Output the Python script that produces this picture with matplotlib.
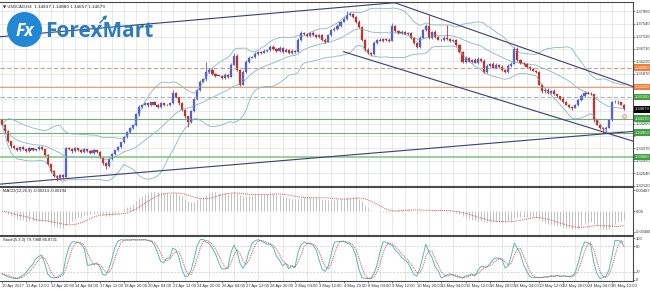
import numpy as np
import pandas as pd
import matplotlib
matplotlib.use('Agg')
import matplotlib.pyplot as plt
from matplotlib.patches import Circle, FancyArrowPatch

# USDCAD H4, 10 Apr - 25 May 2017
symbol_line = '\u25bc USDCAD,H4  1.34837 1.34880 1.34657 1.34679'
macd_line = 'MACD(12,26,9) -0.00214 -0.00194'
stoch_line = 'Stoch(5,3,3) 79.7988 86.8731'

first_open = 1.3431
closes = [
    1.3417, 1.3394, 1.3361, 1.3344, 1.3337, 1.3331, 1.3341, 1.3334, 1.3327, 1.3337,
    1.3331, 1.3334, 1.3341, 1.3334, 1.3314, 1.3284, 1.3261, 1.3244, 1.3237, 1.3247,
    1.3241, 1.3337, 1.3334, 1.3327, 1.3337, 1.3331, 1.3324, 1.3334, 1.3327, 1.3321,
    1.3331, 1.3324, 1.3307, 1.3287, 1.3277, 1.3301, 1.3317, 1.3331, 1.3341, 1.3357,
    1.3374, 1.3391, 1.3404, 1.3414, 1.3451, 1.3477, 1.3484, 1.3488, 1.3481, 1.3491,
    1.3484, 1.3477, 1.3488, 1.3481, 1.3484, 1.3488, 1.3524, 1.3508, 1.3488, 1.3467,
    1.3444, 1.3427, 1.3461, 1.3501, 1.3534, 1.3561, 1.3568, 1.3594, 1.3601, 1.3588,
    1.3581, 1.3581, 1.3574, 1.3584, 1.3578, 1.3618, 1.3648, 1.3601, 1.3551, 1.3594,
    1.3628, 1.3641, 1.3644, 1.3654, 1.3661, 1.3658, 1.3664, 1.3668, 1.3678, 1.3671,
    1.3664, 1.3674, 1.3661, 1.3668, 1.3658, 1.3664, 1.3661, 1.3701, 1.3724, 1.3721,
    1.3714, 1.3724, 1.3718, 1.3711, 1.3718, 1.3701, 1.3694, 1.3718, 1.3734, 1.3738,
    1.3748, 1.3761, 1.3771, 1.3784, 1.3788, 1.3778, 1.3761, 1.3744, 1.3701, 1.3668,
    1.3658, 1.3654, 1.3691, 1.3701, 1.3698, 1.3704, 1.3701, 1.3698, 1.3748, 1.3731,
    1.3724, 1.3728, 1.3721, 1.3724, 1.3708, 1.3691, 1.3678, 1.3708, 1.3734, 1.3748,
    1.3708, 1.3728, 1.3711, 1.3701, 1.3701, 1.3708, 1.3704, 1.3698, 1.3701, 1.3684,
    1.3661, 1.3628, 1.3641, 1.3628, 1.3634, 1.3624, 1.3638, 1.3631, 1.3594, 1.3614,
    1.3621, 1.3608, 1.3618, 1.3611, 1.3601, 1.3594, 1.3614, 1.3621, 1.3671, 1.3634,
    1.3624, 1.3621, 1.3611, 1.3604, 1.3598, 1.3594, 1.3551, 1.3528, 1.3534, 1.3524,
    1.3531, 1.3518, 1.3511, 1.3504, 1.3494, 1.3484, 1.3477, 1.3474, 1.3481, 1.3498,
    1.3514, 1.3524, 1.3521, 1.3518, 1.3431, 1.3417, 1.3407, 1.3401, 1.3407, 1.3431,
    1.3491, 1.3494, 1.3491, 1.3484, 1.3468,
]
upper_wick_pips = [
    3, 2, 4, 2, 3, 4, 2, 3, 2, 4, 3, 2, 4, 3, 2, 3, 2, 4, 3, 5,
    3, 6, 4, 3, 5, 2, 4, 3, 2, 3, 4, 2, 3, 2, 3, 4, 3, 2, 4, 3,
    5, 3, 4, 2, 6, 5, 3, 4, 2, 3, 4, 3, 5, 2, 3, 4, 8, 3, 2, 4,
    3, 2, 4, 5, 3, 6, 4, 33, 5, 4, 3, 4, 2, 5, 3, 6, 8, 4, 3, 5,
    4, 6, 3, 5, 4, 2, 5, 3, 6, 4, 3, 5, 2, 4, 3, 5, 2, 6, 5, 4,
    3, 4, 5, 2, 4, 3, 5, 4, 3, 6, 5, 4, 6, 13, 5, 4, 3, 5, 4, 3,
    4, 3, 6, 4, 5, 3, 4, 5, 8, 4, 3, 5, 4, 3, 4, 2, 3, 5, 4, 6,
    37, 4, 5, 3, 4, 5, 43, 3, 4, 3, 4, 3, 5, 4, 3, 5, 4, 3, 4, 5,
    3, 5, 4, 3, 4, 2, 5, 4, 6, 5, 3, 4, 2, 3, 4, 3, 4, 2, 5, 4,
    3, 4, 2, 3, 4, 3, 2, 3, 4, 5, 4, 5, 6, 4, 3, 4, 3, 2, 4, 5,
    6, 4, 5, 3, 1,
]
lower_wick_pips = [
    3, 4, 3, 5, 2, 3, 4, 2, 3, 3, 2, 4, 3, 2, 4, 3, 5, 4, 10, 4,
    6, 4, 3, 5, 2, 4, 3, 3, 2, 4, 3, 4, 2, 5, 10, 3, 4, 2, 3, 4,
    2, 3, 4, 3, 2, 4, 3, 2, 4, 3, 2, 4, 3, 3, 2, 4, 3, 2, 4, 5,
    4, 17, 4, 3, 2, 4, 3, 4, 3, 5, 3, 2, 4, 3, 5, 2, 3, 4, 6, 3,
    3, 4, 2, 3, 4, 3, 2, 4, 3, 4, 4, 3, 5, 2, 4, 3, 4, 2, 3, 4,
    3, 2, 4, 3, 5, 4, 3, 2, 4, 3, 4, 3, 2, 3, 4, 5, 3, 4, 3, 4,
    5, 6, 3, 4, 2, 3, 4, 3, 2, 4, 3, 4, 2, 5, 3, 4, 5, 3, 2, 4,
    3, 4, 3, 2, 4, 3, 2, 4, 3, 4, 3, 4, 5, 3, 4, 2, 3, 4, 5, 3,
    4, 2, 3, 4, 3, 5, 4, 3, 2, 4, 3, 4, 5, 3, 2, 4, 3, 5, 4, 3,
    4, 3, 2, 4, 5, 3, 4, 7, 3, 2, 3, 4, 2, 3, 4, 3, 5, 13, 4, 3,
    2, 3, 4, 3, 2,
]

time_labels = ['10 Apr 2017', '11 Apr 12:00', '12 Apr 20:00', '14 Apr 04:00', '17 Apr 12:00',
               '18 Apr 20:00', '20 Apr 04:00', '21 Apr 12:00', '24 Apr 20:00', '26 Apr 04:00',
               '27 Apr 12:00', '28 Apr 20:00', '2 May 04:00', '3 May 12:00', '4 May 20:00',
               '8 May 04:00', '9 May 12:00', '10 May 20:00', '12 May 04:00', '15 May 12:00',
               '16 May 20:00', '18 May 04:00', '19 May 12:00', '22 May 20:00', '24 May 04:00',
               '25 May 12:00']
bars_per_label = 8

price_ticks = [1.37960, 1.37540, 1.37120, 1.36710, 1.36290, 1.35870, 1.35460, 1.35040,
               1.34620, 1.34200, 1.33790, 1.33370, 1.32950, 1.32540, 1.32120]
# these sit under the coloured price boxes in the screenshot
hidden_ticks = [1.35460, 1.35040, 1.34620, 1.33790]

# horizontal levels: price, line style, line colour, label colour
level_prices = [1.36080, 1.35420, 1.35100, 1.34370, 1.33900, 1.33080]
level_styles = ['--', '-', '--', '-', '-', '-']
level_colors = ['#c4a488', '#e2a47a', '#a8b8a8', '#72ad72', '#72ad72', '#98cf98']
level_label_colors = ['#ef7f3a', '#ef7f3a', '#3f9f3f', '#3f9f3f', '#3f9f3f', '#3f9f3f']
last_price = 1.34679

# trend lines as (bar, price) pairs
trend_lines = [
    ((-1, 1.3711), (150, 1.3844)),
    ((128, 1.3828), (207, 1.3544)),
    ((112, 1.3661), (207, 1.3361)),
    ((-1, 1.3217), (207, 1.3394)),
]

macd_ticks = [0.00487, 0.0, -0.00480]
macd_tick_labels = ['0.00487', '0.00', '-0.00480']
stoch_ticks = [100, 80, 20, 0]

W, H = 650, 292
BULL = '#5560c8'
BEAR = '#bb3530'
GRID = '#dde0e3'
BAND = '#8bb6c6'
TLINE = '#3a3f74'
SMALL = ['Liberation Sans Narrow', 'Liberation Sans', 'DejaVu Sans']
FS = 3.0

close = pd.Series(closes)
opens = pd.Series([first_open] + closes[:-1])
highs = np.maximum(opens, close) + np.array(upper_wick_pips) * 1e-4
lows = np.minimum(opens, close) - np.array(lower_wick_pips) * 1e-4
x = np.arange(len(closes))

# Bollinger bands (20, 2)
mid = close.rolling(20, min_periods=1).mean()
sd = close.rolling(20, min_periods=1).std(ddof=0)
bb_up = mid + 2 * sd
bb_lo = mid - 2 * sd

# MACD (12, 26, 9), MT4 style: main as histogram, SMA signal
macd = close.ewm(span=12, adjust=False).mean() - close.ewm(span=26, adjust=False).mean()
signal = macd.rolling(9, min_periods=1).mean()

# Stochastic (5, 3, 3)
ll = lows.rolling(5, min_periods=1).min()
hh = highs.rolling(5, min_periods=1).max()
k = 100 * (close - ll).rolling(3, min_periods=1).sum() / (hh - ll).rolling(3, min_periods=1).sum()
d = k.rolling(3, min_periods=1).mean()

plt.rcParams['font.family'] = SMALL
fig = plt.figure(figsize=(W / 100, H / 100), dpi=100)


def panel(top, bottom):
    a = fig.add_axes([0, 1 - bottom / H, 633 / W, (bottom - top) / H])
    a.set_xlim(-0.66, 206.9)
    for s in a.spines.values():
        s.set_color('#4a4a4a')
        s.set_linewidth(0.8)
    a.spines['left'].set_visible(False)
    a.yaxis.tick_right()
    a.tick_params(axis='y', labelsize=FS, length=1.2, width=0.4, pad=0.6, colors='#333333')
    a.set_xticks(np.arange(0, 207, 4), minor=True)
    a.set_xticks([])
    a.tick_params(axis='x', which='minor', length=0)
    a.grid(True, which='minor', axis='x', color=GRID, lw=0.5)
    a.set_axisbelow(True)
    return a


ax = panel(2, 186)
ax_m = panel(187, 235)
ax_s = panel(236, 281)

# main price panel
ax.set_ylim(1.32110, 1.38277)
ax.set_yticks(price_ticks)
ax.set_yticklabels(['' if p in hidden_ticks else '%.5f' % p for p in price_ticks])
ax.grid(True, which='major', axis='y', color=GRID, lw=0.5)

for p, ls, c in zip(level_prices, level_styles, level_colors):
    lw = 1.4 if p == level_prices[-1] else 0.8
    if ls == '--':
        ax.axhline(p, color=c, lw=lw, ls=(0, (4, 2)))
    else:
        ax.axhline(p, color=c, lw=lw)

ax.plot(x, bb_up, color=BAND, lw=0.6)
ax.plot(x, mid, color=BAND, lw=0.6)
ax.plot(x, bb_lo, color=BAND, lw=0.6)

for (x0, y0), (x1, y1) in trend_lines:
    ax.plot([x0, x1], [y0, y1], color=TLINE, lw=0.8)

up = close >= opens
cols = np.where(up, BULL, BEAR)
ax.vlines(x, lows, highs, colors=cols, lw=0.6)
body = np.maximum((close - opens).abs(), 0.00006)
ax.bar(x, body, bottom=np.minimum(opens, close), width=0.7, color=cols, edgecolor=cols, lw=0.2)

ax.plot([204], [1.3447], marker='o', ms=2.6, mfc='none', mec='#e07878', mew=0.6)

ytr = ax.get_yaxis_transform()
for p, c in zip(level_prices, level_label_colors):
    ax.text(1.003, p, '%.5f' % p, transform=ytr, fontsize=FS, color='white',
            va='center', ha='left', zorder=6, clip_on=False,
            bbox=dict(boxstyle='square,pad=0.3', fc=c, ec='none'))
ax.text(1.003, last_price, '%.5f' % last_price, transform=ytr, fontsize=FS,
        color='white', va='center', ha='left', zorder=6, clip_on=False,
        bbox=dict(boxstyle='square,pad=0.3', fc='black', ec='none'))

ax.text(3 / 633, 1 - 2.5 / 184, symbol_line, transform=ax.transAxes, fontsize=FS, color='#222222',
        va='top', ha='left', family=['Liberation Sans Narrow', 'DejaVu Sans'])

# logo
fig.add_artist(Circle((0.245, (H - 29.5) / 100), 0.175, transform=fig.dpi_scale_trans,
                      fc='#2288d6', ec='none'))
fig.text(0.245, (H - 30.5) / 100, 'Fx', transform=fig.dpi_scale_trans, fontsize=12.5,
         fontweight='bold', color='white', ha='center', va='center', family='Open Sans', style='italic')
fig.text(0.45, (H - 37) / 100, 'ForexMart', transform=fig.dpi_scale_trans, fontsize=15,
         fontweight='bold', color='#2b7cbf', ha='left', va='baseline', family='Open Sans')
fig.add_artist(FancyArrowPatch(
    (0.98, (H - 25) / 100), (1.09, (H - 13) / 100), transform=fig.dpi_scale_trans,
    arrowstyle='-|>', mutation_scale=5, color='#2b7cbf', lw=1.0))

# MACD panel
ax_m.set_ylim(-0.0055, 0.0056)
ax_m.vlines(x, 0, macd, colors='#b9b9b9', lw=0.6)
ax_m.plot(x, signal, color='#d05a5a', lw=0.7, ls=(0, (1, 1)))
ax_m.set_yticks(macd_ticks)
ax_m.set_yticklabels(macd_tick_labels)
ax_m.get_yticklabels()[-1].set_fontsize(2.8)
ax_m.text(3 / 633, 0.95, macd_line, transform=ax_m.transAxes, fontsize=FS, color='#222222',
          va='top', ha='left')

# Stochastic panel
ax_s.set_ylim(-2.4, 104.8)
for lv in (80, 20):
    ax_s.axhline(lv, color='#c8c8c8', lw=0.5, ls=(0, (3, 2)))
ax_s.plot(x, k, color='#5fb6b6', lw=0.7)
ax_s.plot(x, d, color='#c25555', lw=0.7, ls=(0, (1, 1)))
ax_s.set_yticks(stoch_ticks)
ax_s.set_yticklabels([str(v) for v in stoch_ticks])
ax_s.text(3 / 633, 0.95, stoch_line, transform=ax_s.transAxes, fontsize=FS, color='#222222',
          va='top', ha='left')

ticks = np.arange(0, bars_per_label * len(time_labels), bars_per_label)
ax_s.set_xticks(ticks)
ax_s.set_xticklabels(time_labels, ha='left')
ax_s.tick_params(axis='x', labelsize=FS, length=1.5, width=0.4, pad=1, colors='#333333')

fig.savefig('out.png', dpi=100)
